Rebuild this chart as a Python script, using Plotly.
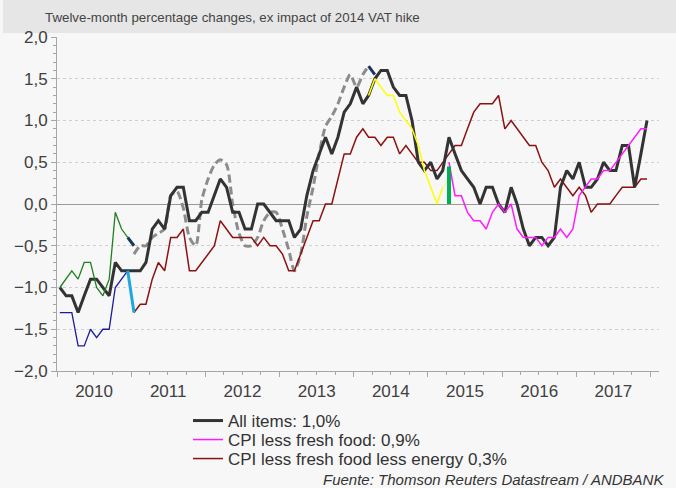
import plotly.graph_objects as go

# ---------------- data (monthly, index 0 = Jan 2010) ----------------
all_items_start = 0
all_items = [-1.0, -1.1, -1.1, -1.3, -1.1, -0.9, -0.9, -1.0, -1.1, -0.7, -0.8, -0.8,
             -0.8, -0.8, -0.7, -0.3, -0.2, -0.3, 0.1, 0.2, 0.2, -0.2, -0.2, -0.1,
             -0.1, 0.1, 0.3, 0.2, -0.1, -0.1, -0.3, -0.3, 0.0, 0.0, -0.1, -0.2,
             -0.2, -0.2, -0.4, -0.3, 0.1, 0.4, 0.6, 0.8, 0.6, 0.8, 1.1, 1.2,
             1.4, 1.2, 1.3, 1.5, 1.6, 1.6, 1.4, 1.3, 1.3, 1.0, 0.5, 0.4,
             0.5, 0.3, 0.4, 0.8, 0.6, 0.4, 0.3, 0.2, 0.0, 0.2, 0.2, 0.0,
             -0.1, 0.2, 0.0, -0.3, -0.5, -0.4, -0.4, -0.5, -0.4, 0.2, 0.4, 0.3,
             0.5, 0.2, 0.2, 0.3, 0.5, 0.4, 0.4, 0.7, 0.7, 0.2, 0.6, 1.0]

less_fresh_start = 63
less_fresh = [0.5, 0.1, 0.1, -0.1, -0.2, -0.2, -0.3, -0.1, 0.0,
              -0.1, 0.0, -0.3, -0.4, -0.4, -0.4, -0.5, -0.4, -0.4, -0.3, -0.4, -0.3,
              0.1, 0.2, 0.3, 0.3, 0.4, 0.4, 0.5, 0.6, 0.7, 0.8, 0.9, 0.9]

less_energy_start = 12
less_energy = [-1.3, -1.2, -1.2, -0.9, -0.7, -0.8, -0.4, -0.4, -0.3, -0.8, -0.8, -0.7,
               -0.6, -0.5, -0.2, -0.3, -0.4, -0.4, -0.4, -0.4, -0.5, -0.4, -0.5, -0.5,
               -0.6, -0.8, -0.8, -0.6, -0.4, -0.2, -0.2, 0.0, 0.0, 0.3, 0.6, 0.6,
               0.8, 0.9, 0.8, 0.8, 0.7, 0.8, 0.8, 0.6, 0.7, 0.6, 0.5, 0.5,
               0.4, 0.4, 0.5, 0.6, 0.7, 0.7, 0.9, 1.1, 1.2, 1.2, 1.2, 1.3,
               0.9, 1.0, 0.9, 0.8, 0.7, 0.7, 0.5, 0.4, 0.2, 0.3, 0.2, 0.1,
               0.2, 0.1, -0.1, 0.0, 0.0, 0.0, 0.1, 0.2, 0.2, 0.2, 0.3, 0.3]

old_base_start = 12
old_base = [-0.6, -0.5, -0.5, -0.4, -0.35, -0.3, 0.1, 0.15, -0.05, -0.4, -0.5, 0.05,
            0.3, 0.47, 0.53, 0.47, 0.0, -0.35, -0.5, -0.5, -0.4, -0.2, -0.1, -0.1,
            -0.3, -0.55, -0.8, -0.6, -0.15, 0.2, 0.6, 0.93, 1.05, 1.2, 1.4, 1.55,
            1.4, 1.55, 1.65]

green_start = 0
green_2010 = [-1.0, -0.9, -0.8, -0.9, -0.7, -0.7, -1.0, -1.1, -0.9, -0.1, -0.3, -0.4]

blue_start = 0
blue_2010 = [-1.3, -1.3, -1.3, -1.7, -1.7, -1.5, -1.6, -1.5, -1.5, -1.0, -0.9, -0.8]

lightblue_start = 11
lightblue_link = [-0.8, -1.3]

navy1_start = 11
navy_link_2010 = [-0.4, -0.5]

navy2_start = 50
navy_link_2014 = [1.65, 1.55]

yellow_start = 50
yellow_2014 = [1.3, 1.5, 1.4, 1.3, 1.3, 1.1, 1.0, 0.9, 0.7, 0.4, 0.2, 0.0, 0.2]
yellow_tail_start = 62
yellow_tail = [0.2, 0.3]

vat_bar_month = 63
vat_bar = [0.0, 0.45]

legend_labels = ["All items: 1,0%", "CPI less fresh food: 0,9%",
                 "CPI less fresh food less energy 0,3%"]
title_text = "Twelve-month percentage changes, ex impact of 2014 VAT hike"
source_text = "Fuente: Thomson Reuters Datastream / ANDBANK"


def month_dates(start, n):
    out = []
    for k in range(n):
        m = start + k
        out.append(f"{2010 + m // 12}-{m % 12 + 1:02d}-15")
    return out


fig = go.Figure()


def add(start, vals, color, width, name=None, dash=None, legend=None, shape="linear"):
    x = month_dates(start, len(vals))
    fig.add_trace(go.Scatter(
        x=x, y=vals, mode="lines", name=name, showlegend=legend is not None,
        legend=legend if legend else "legend",
        line=dict(color=color, width=width, dash=dash, shape=shape,
                  smoothing=0.7 if shape == "spline" else None),
        hoverinfo="skip"))


add(old_base_start, old_base, "#8c8c8c", 3, dash="8px,4px", shape="spline")
add(less_energy_start, less_energy, "#8b1111", 1.5, name=legend_labels[2], legend="legend3")
add(all_items_start, all_items, "#333333", 3, name=legend_labels[0], legend="legend")
add(less_fresh_start, less_fresh, "#ff1aff", 1.5, name=legend_labels[1], legend="legend2")
add(green_start, green_2010, "#1f801f", 1.3)
add(blue_start, blue_2010, "#1c1c9c", 1.3)
add(yellow_start, yellow_2014, "#ffff00", 1.5)
add(yellow_tail_start, yellow_tail, "#fbf3a8", 1.2)
add(lightblue_start, lightblue_link, "#22a6e0", 3)
add(navy1_start, navy_link_2010, "#17375e", 3)
add(navy2_start, navy_link_2014, "#17375e", 3)
vx = month_dates(vat_bar_month, 1) * len(vat_bar)
fig.add_trace(go.Scatter(x=vx, y=vat_bar, mode="lines", showlegend=False,
                         line=dict(color="#00b050", width=4), hoverinfo="skip"))

W, H = 676, 488
L, R, T, B = 57, 17, 37, 117
pw, ph = W - L - R, H - T - B


def px_x(p):
    return (p - L) / pw


def px_y(p):
    return (H - B - p) / ph


def leg(row_y):
    return dict(x=px_x(188), y=px_y(row_y), xanchor="left", yanchor="middle",
                bgcolor="rgba(0,0,0,0)", font=dict(size=17, color="#333333"))


axis_col = "#a6a6a6"
fig.update_layout(
    width=W, height=H, autosize=False,
    margin=dict(l=L, r=R, t=T, b=B, autoexpand=False),
    paper_bgcolor="#f7f7f7", plot_bgcolor="#f7f7f7",
    separators=",.",
    font=dict(family="Arial, Liberation Sans, sans-serif", color="#404040"),
    xaxis=dict(type="date", range=["2010-01-01", "2018-02-12"],
               tick0="2010-01-01", dtick="M12", tickformat="%Y",
               ticklabelmode="period", ticks="outside", ticklen=5,
               tickcolor=axis_col, showline=True, linecolor=axis_col,
               showgrid=False, zeroline=False,
               tickfont=dict(size=17, color="#404040"),
               minor=dict(dtick="M3", ticks="outside", ticklen=3,
                          tickcolor=axis_col, showgrid=False)),
    yaxis=dict(range=[-2, 2], dtick=0.5, tick0=0, tickformat=".1f",
               ticks="outside", ticklen=5, tickcolor=axis_col,
               showline=True, linecolor=axis_col,
               showgrid=True, gridcolor="#cfcfcf", griddash="dot", gridwidth=1,
               zeroline=True, zerolinecolor="#9a9a9a", zerolinewidth=1.2,
               tickfont=dict(size=17, color="#404040"),
               minor=dict(dtick=0.1, ticks="outside", ticklen=3,
                          tickcolor=axis_col, showgrid=False)),
    legend=leg(421),
    legend2=leg(440),
    legend3=leg(459),
    shapes=[dict(type="rect", xref="paper", yref="paper",
                 x0=px_x(3), x1=px_x(W), y0=px_y(33), y1=px_y(0),
                 fillcolor="#e6e6e6", line=dict(width=0), layer="below")],
    annotations=[
        dict(text=title_text, xref="paper", yref="paper", x=px_x(43), y=px_y(18),
             xanchor="left", yanchor="middle", showarrow=False,
             font=dict(family="Liberation Sans, Arial", size=13.3, color="#444444")),
        dict(text="<i>" + source_text + "</i>", xref="paper", yref="paper",
             x=px_x(666), y=px_y(479), xanchor="right", yanchor="middle",
             showarrow=False, font=dict(size=15, color="#333333")),
    ],
)

fig.write_html("out.html", config={"displayModeBar": False},
               post_script="document.body.style.margin='0px';")
